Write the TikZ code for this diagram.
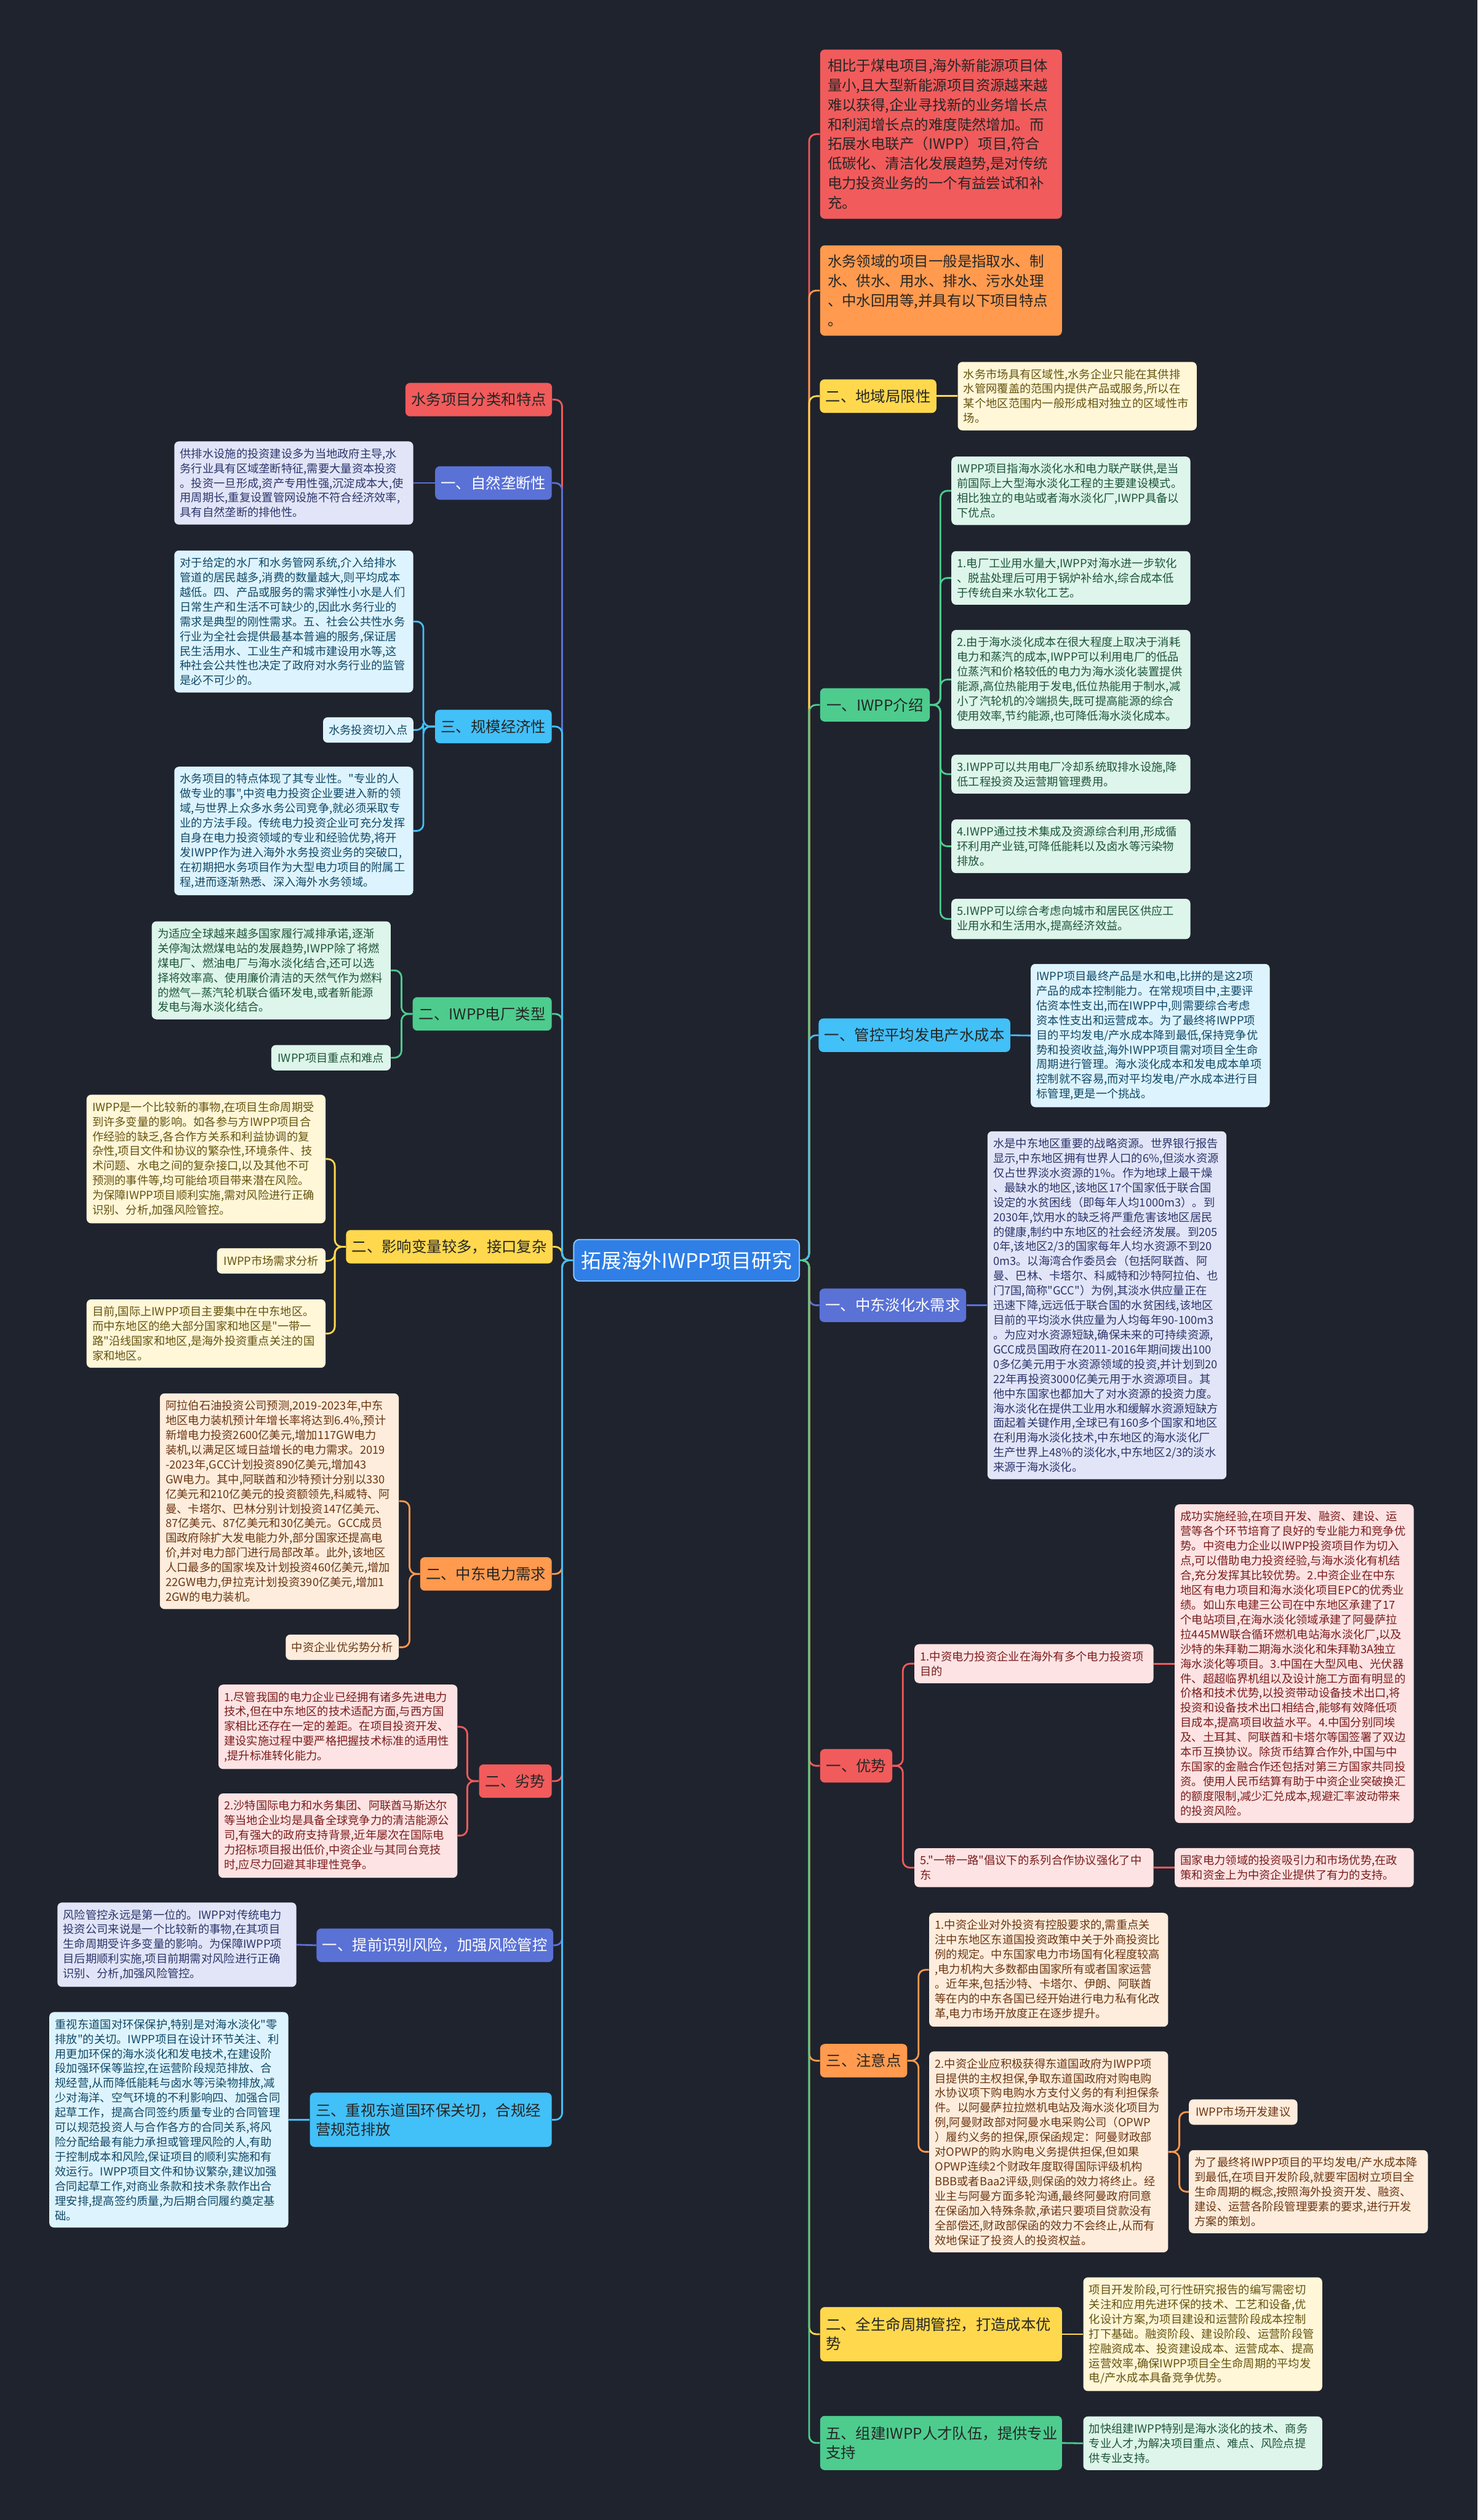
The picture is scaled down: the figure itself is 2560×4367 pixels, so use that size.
\documentclass[tikz,border=0pt]{standalone}
\usepackage{fontspec}
\newfontfamily\cnfont{Noto Sans CJK SC}
\usetikzlibrary{positioning}
\definecolor{bgc}{HTML}{1F232E}
\definecolor{cmain}{HTML}{2F7FE6}
\definecolor{cedge}{HTML}{8CC8FF}
\definecolor{bred}{HTML}{F15B5B}
\definecolor{bora}{HTML}{FF9A4E}
\definecolor{byel}{HTML}{FFD84D}
\definecolor{bgrn}{HTML}{4DCC8E}
\definecolor{bsky}{HTML}{42C0F8}
\definecolor{bind}{HTML}{5A71D6}
\definecolor{lred}{HTML}{FDE3E3}
\definecolor{lora}{HTML}{FEEDDC}
\definecolor{lyel}{HTML}{FFF7D8}
\definecolor{lgrn}{HTML}{DDF5EA}
\definecolor{lsky}{HTML}{DDF4FE}
\definecolor{lind}{HTML}{E2E5F7}
\definecolor{tred}{HTML}{7A1C1C}
\definecolor{tora}{HTML}{6B3512}
\definecolor{tyel}{HTML}{66530F}
\definecolor{tgrn}{HTML}{1D553A}
\definecolor{tsky}{HTML}{104866}
\definecolor{tind}{HTML}{2B356B}
\definecolor{tdark}{HTML}{262626}
\newcommand{\fsz}[2]{\cnfont\fontsize{#1}{#2}\selectfont}
\tikzset{
  lk/.style={draw=b#1, line width=1.5pt, rounded corners=6pt},
  topic/.style={fill=b#1, text=tdark, rounded corners=4pt, minimum height=29pt,
    inner xsep=5pt, inner ysep=2pt, font=\fsz{13pt}{16.5pt}},
  note/.style={fill=l#1, text=t#1, rounded corners=4pt, text width=197pt,
    inner xsep=5pt, inner ysep=6pt, align=left, font=\fsz{9.75pt}{12.75pt}},
  tag/.style={fill=l#1, text=t#1, rounded corners=4pt, minimum height=22pt,
    inner xsep=5pt, inner ysep=2pt, font=\fsz{9.75pt}{12.75pt}},
  lead/.style={fill=b#1, text=tdark, rounded corners=4pt, text width=196.5pt,
    inner xsep=6.5pt, inner ysep=8pt, align=left, font=\fsz{12.5pt}{17pt}},
}
\begin{document}
\begin{tikzpicture}[x=0.5pt, y=-0.5pt]
  \fill[bgc] (0,0) rectangle (2560,4367);
  \useasboundingbox (0,0) rectangle (2560,4367);
  % centre
  \node[fill=cmain, text=white, draw=cedge, line width=1pt, rounded corners=5pt,
    minimum width=195.5pt, minimum height=36pt,
    font=\fsz{17.5pt}{21pt}] (ctr) at (1189.5,2184) {拓展海外IWPP项目研究};

  % right side
  \node[lead=red] (r1) at (1630.5,232.5) {相比于煤电项目,海外新能源项目体\\量小,且大型新能源项目资源越来越\\难以获得,企业寻找新的业务增长点\\和利润增长点的难度陡然增加。而\\拓展水电联产（IWPP）项目,符合\\低碳化、清洁化发展趋势,是对传统\\电力投资业务的一个有益尝试和补\\充。};
  \node[lead=ora] (r2) at (1630.5,503.5) {水务领域的项目一般是指取水、制\\水、供水、用水、排水、污水处理\\、中水回用等,并具有以下项目特点\\。};

  \node[topic=yel, minimum width=100.5pt] (r3) at (1521.5,686.5) {二、地域局限性};
  \node[note=yel] (r3d) at (1866.5,686.5) {水务市场具有区域性,水务企业只能在其供排\\水管网覆盖的范围内提供产品或服务,所以在\\某个地区范围内一般形成相对独立的区域性市\\场。};

  \node[topic=grn, minimum width=95pt] (r4) at (1516,1221.5) {一、IWPP介绍};
  \node[note=grn] (r4a) at (1855.5,850.5) {IWPP项目指海水淡化水和电力联产联供,是当\\前国际上大型海水淡化工程的主要建设模式。\\相比独立的电站或者海水淡化厂,IWPP具备以\\下优点。};
  \node[note=grn] (r4b) at (1855.5,1001.5) {1.电厂工业用水量大,IWPP对海水进一步软化\\、脱盐处理后可用于锅炉补给水,综合成本低\\于传统自来水软化工艺。};
  \node[note=grn] (r4c) at (1855.5,1177.5) {2.由于海水淡化成本在很大程度上取决于消耗\\电力和蒸汽的成本,IWPP可以利用电厂的低品\\位蒸汽和价格较低的电力为海水淡化装置提供\\能源,高位热能用于发电,低位热能用于制水,减\\小了汽轮机的冷端损失,既可提高能源的综合\\使用效率,节约能源,也可降低海水淡化成本。};
  \node[note=grn] (r4d) at (1855.5,1341.5) {3.IWPP可以共用电厂冷却系统取排水设施,降\\低工程投资及运营期管理费用。};
  \node[note=grn] (r4e) at (1855.5,1466.5) {4.IWPP通过技术集成及资源综合利用,形成循\\环利用产业链,可降低能耗以及卤水等污染物\\排放。};
  \node[note=grn] (r4f) at (1855.5,1592.5) {5.IWPP可以综合考虑向城市和居民区供应工\\业用水和生活用水,提高经济效益。};

  \node[topic=sky, minimum width=164.5pt] (r5) at (1584.5,1794) {一、管控平均发电产水成本};
  \node[note=sky] (r5d) at (1993,1794.5) {IWPP项目最终产品是水和电,比拼的是这2项\\产品的成本控制能力。在常规项目中,主要评\\估资本性支出,而在IWPP中,则需要综合考虑\\资本性支出和运营成本。为了最终将IWPP项\\目的平均发电/产水成本降到最低,保持竞争优\\势和投资收益,海外IWPP项目需对项目全生命\\周期进行管理。海水淡化成本和发电成本单项\\控制就不容易,而对平均发电/产水成本进行目\\标管理,更是一个挑战。};

  \node[topic=ind, text=white, minimum width=127pt] (r6) at (1547,2262) {一、中东淡化水需求};
  \node[note=ind] (r6d) at (1918,2262) {水是中东地区重要的战略资源。世界银行报告\\显示,中东地区拥有世界人口的6\%,但淡水资源\\仅占世界淡水资源的1\%。作为地球上最干燥\\、最缺水的地区,该地区17个国家低于联合国\\设定的水贫困线（即每年人均1000m3）。到\\2030年,饮用水的缺乏将严重危害该地区居民\\的健康,制约中东地区的社会经济发展。到205\\0年,该地区2/3的国家每年人均水资源不到20\\0m3。以海湾合作委员会（包括阿联酋、阿\\曼、巴林、卡塔尔、科威特和沙特阿拉伯、也\\门7国,简称"GCC"）为例,其淡水供应量正在\\迅速下降,远远低于联合国的水贫困线,该地区\\目前的平均淡水供应量为人均每年90-100m3\\。为应对水资源短缺,确保未来的可持续资源,\\GCC成员国政府在2011-2016年期间拨出100\\0多亿美元用于水资源领域的投资,并计划到20\\22年再投资3000亿美元用于水资源项目。其\\他中东国家也都加大了对水资源的投资力度。\\海水淡化在提供工业用水和缓解水资源短缺方\\面起着关键作用,全球已有160多个国家和地区\\在利用海水淡化技术,中东地区的海水淡化厂\\生产世界上48\%的淡化水,中东地区2/3的淡水\\来源于海水淡化。};

  \node[topic=red, minimum width=62.5pt] (r7) at (1483.5,3060) {一、优势};
  \node[note=red] (r7a) at (1791.5,2883) {1.中资电力投资企业在海外有多个电力投资项\\目的};
  \node[note=red] (r7ad) at (2242.5,2883) {成功实施经验,在项目开发、融资、建设、运\\营等各个环节培育了良好的专业能力和竞争优\\势。中资电力企业以IWPP投资项目作为切入\\点,可以借助电力投资经验,与海水淡化有机结\\合,充分发挥其比较优势。2.中资企业在中东\\地区有电力项目和海水淡化项目EPC的优秀业\\绩。如山东电建三公司在中东地区承建了17\\个电站项目,在海水淡化领域承建了阿曼萨拉\\拉445MW联合循环燃机电站海水淡化厂,以及\\沙特的朱拜勒二期海水淡化和朱拜勒3A独立\\海水淡化等项目。3.中国在大型风电、光伏器\\件、超超临界机组以及设计施工方面有明显的\\价格和技术优势,以投资带动设备技术出口,将\\投资和设备技术出口相结合,能够有效降低项\\目成本,提高项目收益水平。4.中国分别同埃\\及、土耳其、阿联酋和卡塔尔等国签署了双边\\本币互换协议。除货币结算合作外,中国与中\\东国家的金融合作还包括对第三方国家共同投\\资。使用人民币结算有助于中资企业突破换汇\\的额度限制,减少汇兑成本,规避汇率波动带来\\的投资风险。};
  \node[note=red] (r7b) at (1791.5,3236.5) {5."一带一路"倡议下的系列合作协议强化了中\\东};
  \node[note=red] (r7bd) at (2242.5,3236.5) {国家电力领域的投资吸引力和市场优势,在政\\策和资金上为中资企业提供了有力的支持。};

  \node[topic=ora, minimum width=75.5pt] (r8) at (1496.5,3571) {三、注意点};
  \node[note=ora] (r8a) at (1817,3413.5) {1.中资企业对外投资有控股要求的,需重点关\\注中东地区东道国投资政策中关于外商投资比\\例的规定。中东国家电力市场国有化程度较高\\,电力机构大多数都由国家所有或者国家运营\\。近年来,包括沙特、卡塔尔、伊朗、阿联酋\\等在内的中东各国已经开始进行电力私有化改\\革,电力市场开放度正在逐步提升。};
  \node[note=ora] (r8b) at (1817,3729) {2.中资企业应积极获得东道国政府为IWPP项\\目提供的主权担保,争取东道国政府对购电购\\水协议项下购电购水方支付义务的有利担保条\\件。以阿曼萨拉拉燃机电站及海水淡化项目为\\例,阿曼财政部对阿曼水电采购公司（OPWP\\）履约义务的担保,原保函规定：阿曼财政部\\对OPWP的购水购电义务提供担保,但如果\\OPWP连续2个财政年度取得国际评级机构\\BBB或者Baa2评级,则保函的效力将终止。经\\业主与阿曼方面多轮沟通,最终阿曼政府同意\\在保函加入特殊条款,承诺只要项目贷款没有\\全部偿还,财政部保函的效力不会终止,从而有\\效地保证了投资人的投资权益。};
  \node[tag=ora, minimum width=94pt] (r8c) at (2154,3660) {IWPP市场开发建议};
  \node[note=ora] (r8d) at (2267,3798) {为了最终将IWPP项目的平均发电/产水成本降\\到最低,在项目开发阶段,就要牢固树立项目全\\生命周期的概念,按照海外投资开发、融资、\\建设、运营各阶段管理要素的要求,进行开发\\方案的策划。};

  \node[topic=yel, text width=199.5pt, align=left, minimum height=47pt] (r9) at (1630.5,4045) {二、全生命周期管控，打造成本优\\势};
  \node[note=yel] (r9d) at (2084,4045) {项目开发阶段,可行性研究报告的编写需密切\\关注和应用先进环保的技术、工艺和设备,优\\化设计方案,为项目建设和运营阶段成本控制\\打下基础。融资阶段、建设阶段、运营阶段管\\控融资成本、投资建设成本、运营成本、提高\\运营效率,确保IWPP项目全生命周期的平均发\\电/产水成本具备竞争优势。};

  \node[topic=grn, text width=199.5pt, align=left, minimum height=47pt] (r10) at (1630.5,4233.5) {五、组建IWPP人才队伍，提供专业\\支持};
  \node[note=grn] (r10d) at (2084,4234) {加快组建IWPP特别是海水淡化的技术、商务\\专业人才,为解决项目重点、难点、风险点提\\供专业支持。};

  % left side
  \node[topic=red, minimum width=126.5pt] (l1) at (829.5,692.5) {水务项目分类和特点};

  \node[topic=ind, text=white, minimum width=101pt] (l2) at (855,837) {一、自然垄断性};
  \node[note=ind] (l2d) at (509,837) {供排水设施的投资建设多为当地政府主导,水\\务行业具有区域垄断特征,需要大量资本投资\\。投资一旦形成,资产专用性强,沉淀成本大,使\\用周期长,重复设置管网设施不符合经济效率,\\具有自然垄断的排他性。};

  \node[topic=sky, minimum width=101pt] (l3) at (855,1259) {三、规模经济性};
  \node[note=sky] (l3a) at (509,1077) {对于给定的水厂和水务管网系统,介入给排水\\管道的居民越多,消费的数量越大,则平均成本\\越低。四、产品或服务的需求弹性小水是人们\\日常生产和生活不可缺少的,因此水务行业的\\需求是典型的刚性需求。五、社会公共性水务\\行业为全社会提供最基本普遍的服务,保证居\\民生活用水、工业生产和城市建设用水等,这\\种社会公共性也决定了政府对水务行业的监管\\是必不可少的。};
  \node[tag=sky, minimum width=78pt] (l3b) at (638,1265) {水务投资切入点};
  \node[note=sky] (l3c) at (509,1440) {水务项目的特点体现了其专业性。"专业的人\\做专业的事",中资电力投资企业要进入新的领\\域,与世界上众多水务公司竞争,就必须采取专\\业的方法手段。传统电力投资企业可充分发挥\\自身在电力投资领域的专业和经验优势,将开\\发IWPP作为进入海外水务投资业务的突破口,\\在初期把水务项目作为大型电力项目的附属工\\程,进而逐渐熟悉、深入海外水务领域。};

  \node[topic=grn, minimum width=120.5pt] (l4) at (835.5,1757) {二、IWPP电厂类型};
  \node[note=grn] (l4a) at (470,1681.5) {为适应全球越来越多国家履行减排承诺,逐渐\\关停淘汰燃煤电站的发展趋势,IWPP除了将燃\\煤电厂、燃油电厂与海水淡化结合,还可以选\\择将效率高、使用廉价清洁的天然气作为燃料\\的燃气—蒸汽轮机联合循环发电,或者新能源\\发电与海水淡化结合。};
  \node[tag=grn, minimum width=103.5pt] (l4b) at (573.5,1833) {IWPP项目重点和难点};

  \node[topic=yel, minimum width=177.5pt] (l5) at (778.5,2160.5) {二、影响变量较多，接口复杂};
  \node[note=yel] (l5a) at (357,2008.5) {IWPP是一个比较新的事物,在项目生命周期受\\到许多变量的影响。如各参与方IWPP项目合\\作经验的缺乏,各合作方关系和利益协调的复\\杂性,项目文件和协议的繁杂性,环境条件、技\\术问题、水电之间的复杂接口,以及其他不可\\预测的事件等,均可能给项目带来潜在风险。\\为保障IWPP项目顺利实施,需对风险进行正确\\识别、分析,加强风险管控。};
  \node[tag=yel, minimum width=94pt] (l5b) at (470,2185) {IWPP市场需求分析};
  \node[note=yel] (l5c) at (357,2311) {目前,国际上IWPP项目主要集中在中东地区。\\而中东地区的绝大部分国家和地区是"一带一\\路"沿线国家和地区,是海外投资重点关注的国\\家和地区。};

  \node[topic=ora, minimum width=114pt] (l6) at (842,2727.5) {二、中东电力需求};
  \node[note=ora] (l6a) at (484,2601.5) {阿拉伯石油投资公司预测,2019-2023年,中东\\地区电力装机预计年增长率将达到6.4\%,预计\\新增电力投资2600亿美元,增加117GW电力\\装机,以满足区域日益增长的电力需求。2019\\-2023年,GCC计划投资890亿美元,增加43\\GW电力。其中,阿联酋和沙特预计分别以330\\亿美元和210亿美元的投资额领先,科威特、阿\\曼、卡塔尔、巴林分别计划投资147亿美元、\\87亿美元、87亿美元和30亿美元。GCC成员\\国政府除扩大发电能力外,部分国家还提高电\\价,并对电力部门进行局部改革。此外,该地区\\人口最多的国家埃及计划投资460亿美元,增加\\22GW电力,伊拉克计划投资390亿美元,增加1\\2GW的电力装机。};
  \node[tag=ora, minimum width=98pt] (l6b) at (593,2854.5) {中资企业优劣势分析};

  \node[topic=red, minimum width=63pt] (l7) at (893,3086.5) {二、劣势};
  \node[note=red] (l7a) at (585.5,2992.5) {1.尽管我国的电力企业已经拥有诸多先进电力\\技术,但在中东地区的技术适配方面,与西方国\\家相比还存在一定的差距。在项目投资开发、\\建设实施过程中要严格把握技术标准的适用性\\,提升标准转化能力。};
  \node[note=red] (l7b) at (585.5,3181) {2.沙特国际电力和水务集团、阿联酋马斯达尔\\等当地企业均是具备全球竞争力的清洁能源公\\司,有强大的政府支持背景,近年屡次在国际电\\力招标项目报出低价,中资企业与其同台竞技\\时,应尽力回避其非理性竞争。};

  \node[topic=ind, text=white, minimum width=202.5pt] (l8) at (753.5,3371) {一、提前识别风险，加强风险管控};
  \node[note=ind] (l8d) at (306.5,3370) {风险管控永远是第一位的。IWPP对传统电力\\投资公司来说是一个比较新的事物,在其项目\\生命周期受许多变量的影响。为保障IWPP项\\目后期顺利实施,项目前期需对风险进行正确\\识别、分析,加强风险管控。};

  \node[topic=sky, text width=199.5pt, align=left, minimum height=47pt] (l9) at (746.5,3673.5) {三、重视东道国环保关切，合规经\\营规范排放};
  \node[note=sky] (l9d) at (292.5,3673.5) {重视东道国对环保保护,特别是对海水淡化"零\\排放"的关切。IWPP项目在设计环节关注、利\\用更加环保的海水淡化和发电技术,在建设阶\\段加强环保等监控,在运营阶段规范排放、合\\规经营,从而降低能耗与卤水等污染物排放,减\\少对海洋、空气环境的不利影响四、加强合同\\起草工作，提高合同签约质量专业的合同管理\\可以规范投资人与合作各方的合同关系,将风\\险分配给最有能力承担或管理风险的人,有助\\于控制成本和风险,保证项目的顺利实施和有\\效运行。IWPP项目文件和协议繁杂,建议加强\\合同起草工作,对商业条款和技术条款作出合\\理安排,提高签约质量,为后期合同履约奠定基\\础。};

  % connectors, right
  \draw[lk=red] (ctr.east) -- ++(16,0) |- (r1.west);
  \draw[lk=ora] (ctr.east) -- ++(16,0) |- (r2.west);
  \draw[lk=yel] (ctr.east) -- ++(16,0) |- (r3.west);
  \draw[lk=yel] (r3.east) -- (r3d.west);
  \draw[lk=grn] (ctr.east) -- ++(16,0) |- (r4.west);
  \foreach \k in {r4a,r4b,r4c,r4d,r4e,r4f}
    \draw[lk=grn] (r4.east) -- ++(18,0) |- (\k.west);
  \draw[lk=sky] (ctr.east) -- ++(16,0) |- (r5.west);
  \draw[lk=sky] (r5.east) -- (r5d.west);
  \draw[lk=ind] (ctr.east) -- ++(16,0) |- (r6.west);
  \draw[lk=ind] (r6.east) -- (r6d.west);
  \draw[lk=red] (ctr.east) -- ++(16,0) |- (r7.west);
  \draw[lk=red] (r7.east) -- ++(18,0) |- (r7a.west);
  \draw[lk=red] (r7.east) -- ++(18,0) |- (r7b.west);
  \draw[lk=red] (r7a.east) -- (r7ad.west);
  \draw[lk=red] (r7b.east) -- (r7bd.west);
  \draw[lk=ora] (ctr.east) -- ++(16,0) |- (r8.west);
  \draw[lk=ora] (r8.east) -- ++(19,0) |- (r8a.west);
  \draw[lk=ora] (r8.east) -- ++(19,0) |- (r8b.west);
  \draw[lk=ora] (r8b.east) -- ++(19,0) |- (r8c.west);
  \draw[lk=ora] (r8b.east) -- ++(19,0) |- (r8d.west);
  \draw[lk=yel] (ctr.east) -- ++(16,0) |- (r9.west);
  \draw[lk=yel] (r9.east) -- (r9d.west);
  \draw[lk=grn] (ctr.east) -- ++(16,0) |- (r10.west);
  \draw[lk=grn] (r10.east) -- (r10d.west);

  % connectors, left
  \draw[lk=red] (ctr.west) -- ++(-19,0) |- (l1.east);
  \draw[lk=ind] (ctr.west) -- ++(-19,0) |- (l2.east);
  \draw[lk=ind] (l2.west) -- (l2d.east);
  \draw[lk=grn] (ctr.west) -- ++(-19,0) |- (l4.east);
  \draw[lk=yel] (ctr.west) -- ++(-19,0) |- (l5.east);
  \draw[lk=sky] (ctr.west) -- ++(-19,0) |- (l3.east);
  \foreach \k in {l3a,l3b,l3c}
    \draw[lk=sky] (l3.west) -- ++(-20,0) |- (\k.east);
  \foreach \k in {l4a,l4b}
    \draw[lk=grn] (l4.west) -- ++(-19,0) |- (\k.east);
  \foreach \k in {l5a,l5b,l5c}
    \draw[lk=yel] (l5.west) -- ++(-19,0) |- (\k.east);
  \draw[lk=ora] (ctr.west) -- ++(-19,0) |- (l6.east);
  \foreach \k in {l6a,l6b}
    \draw[lk=ora] (l6.west) -- ++(-18,0) |- (\k.east);
  \draw[lk=red] (ctr.west) -- ++(-19,0) |- (l7.east);
  \foreach \k in {l7a,l7b}
    \draw[lk=red] (l7.west) -- ++(-20,0) |- (\k.east);
  \draw[lk=ind] (ctr.west) -- ++(-19,0) |- (l8.east);
  \draw[lk=ind] (l8.west) -- (l8d.east);
  \draw[lk=sky] (ctr.west) -- ++(-19,0) |- (l9.east);
  \draw[lk=sky] (l9.west) -- (l9d.east);
\end{tikzpicture}
\end{document}
